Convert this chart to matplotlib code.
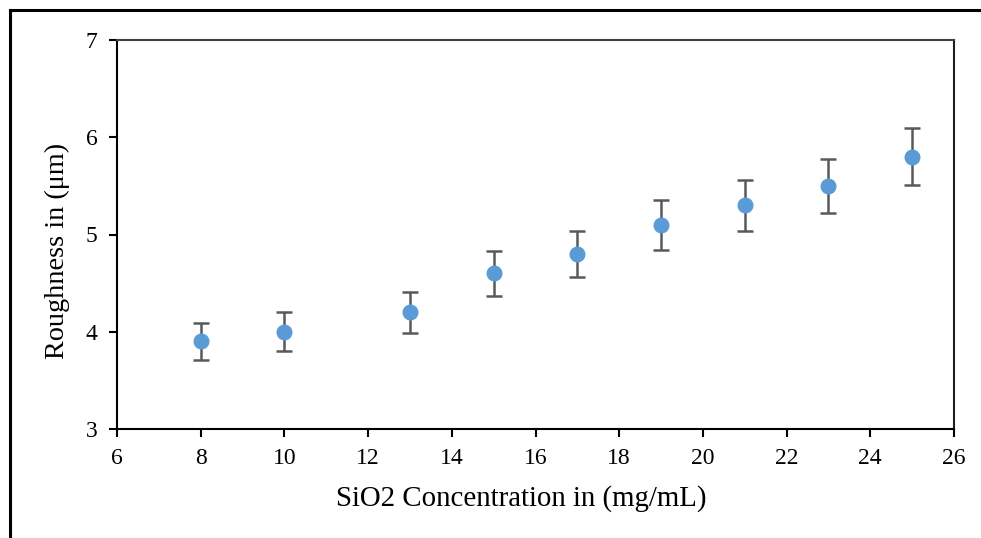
import matplotlib
matplotlib.use("Agg")
import matplotlib.pyplot as plt
from matplotlib.lines import Line2D

plt.rcParams['font.family'] = ['Liberation Serif', 'DejaVu Serif']

concentration = [8, 10, 13, 15, 17, 19, 21, 23, 25]
roughness = [3.9, 4.0, 4.2, 4.6, 4.8, 5.1, 5.3, 5.5, 5.8]
error = [0.195, 0.2, 0.21, 0.23, 0.24, 0.255, 0.265, 0.275, 0.29]
x_ticks = [6, 8, 10, 12, 14, 16, 18, 20, 22, 24, 26]
y_ticks = [3, 4, 5, 6, 7]

W, H = 981, 538
fig = plt.figure(figsize=(W / 100, H / 100), dpi=100)
left, right, top, bottom = 117, 954, 40, 429
ax = fig.add_axes([left / W, 1 - bottom / H, (right - left) / W, (bottom - top) / H])

ax.errorbar(concentration, roughness, yerr=error, fmt='o', color='#5B9BD5',
            markersize=10.5, ecolor='#595959', elinewidth=1.8, capsize=5.5,
            capthick=1.8, zorder=3)

ax.set_xlim(6, 26)
ax.set_ylim(3, 7)
ax.set_xticks(x_ticks)
ax.set_yticks(y_ticks)
ax.tick_params(axis='x', direction='out', length=6, width=1.5, labelsize=17, pad=8)
ax.tick_params(axis='y', direction='out', length=6, width=1.5, labelsize=17, pad=8)
for s in ax.spines.values():
    s.set_linewidth(1.5)
    s.set_color('black')
ax.spines['top'].set_color('#404040')
ax.spines['right'].set_color('#202020')

ax.set_xlabel('SiO2 Concentration in (mg/mL)', fontsize=20.8)
ax.set_ylabel('Roughness in (μm)', fontsize=20.3)
ax.xaxis.set_label_coords(0.483, -0.144)
ax.yaxis.set_label_coords(-0.056, 0.458)

# outer border
fig.add_artist(Line2D([10 / W, 1], [1 - 10 / H, 1 - 10 / H], color='black', lw=2.2, transform=fig.transFigure))
fig.add_artist(Line2D([10 / W, 10 / W], [1 - 10 / H, 0], color='black', lw=2.2, transform=fig.transFigure))

fig.savefig('out.png', dpi=100)
